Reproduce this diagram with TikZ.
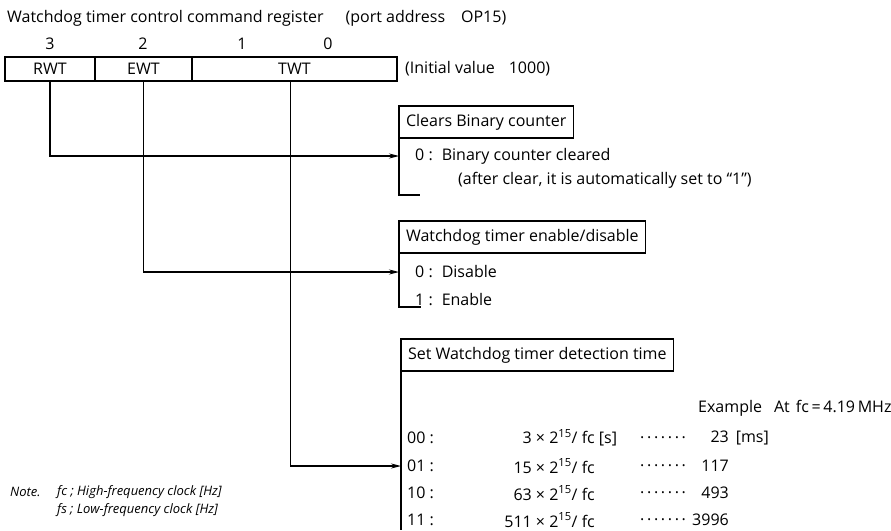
\documentclass[tikz,border=0pt]{standalone}
\usepackage{fontspec}
\setmainfont{Open Sans}
\usetikzlibrary{arrows.meta,positioning}
\tikzset{
 reg/.style={rectangle,draw=black,line width=1.1pt,outer sep=0pt,inner sep=0pt,minimum height=24pt},
 head/.style={rectangle,draw=black,line width=1.1pt,outer sep=0pt,inner xsep=7pt,inner ysep=0pt,minimum height=32pt,anchor=north west},
 txt/.style={inner sep=0pt,anchor=west},
 val/.style={inner sep=0pt,anchor=east},
 note/.style={inner sep=0pt,anchor=west,font=\fontsize{13}{15}\selectfont\itshape},
 arrow/.style={-{Stealth[length=10pt,width=5pt]},line width=1.1pt},
 brk/.style={line width=1.1pt}}

\begin{document}
\begin{tikzpicture}[x=1pt,y=-1pt,font=\fontsize{16}{19}\selectfont]
\useasboundingbox (0,0) rectangle (891,530);
% register
\node[txt] (title) at (7,18) {Watchdog timer control command register\hspace{22pt}(port address\hspace{16pt}OP15)};
\node[reg,minimum width=90pt] (rwt) at (50,69) {RWT};
\node[reg,minimum width=97pt,right=0pt of rwt] (ewt) {EWT};
\node[reg,minimum width=205pt,right=0pt of ewt] (twt) {TWT};
\node (b3) at (50,44) {3}; \node (b2) at (143,44) {2}; \node (b1) at (242,44) {1}; \node (b0) at (328,44) {0};
\node[txt,right=8pt of twt] (init) {(Initial value\hspace{14pt}1000)};
% clear
\node[head] (clrhead) at (399,106) {Clears Binary counter};
\node[txt] (clr0) at (415,156) {0 :\hspace{9pt}Binary counter cleared};
\node[txt] (clr1) at (458,180) {(after clear, it is automatically set to “1”)};
\draw[brk] (clrhead.south west) -- ++(0,57) -- ++(21,0);
% enable
\node[head] (enhead) at (399,221) {Watchdog timer enable/disable};
\node[txt] (en0) at (415,272) {0 :\hspace{9pt}Disable};
\node[txt] (en1) at (415,300) {1 :\hspace{9pt}Enable};
\draw[brk] (enhead.south west) -- ++(0,54) -- ++(22,0);
% detection time
\node[head] (sethead) at (401,339) {Set Watchdog timer detection time};
\coordinate (setend) at (401,530);
\draw[brk] (sethead.south west) -- (setend);
\node[txt] (example) at (698,408) {Example\hspace{12pt}At\hspace{6pt}fc\,=\,4.19\,MHz};
\node[txt] (r00) at (407,438) {00 :}; \node[val] (f00) at (595,438) {3 × 2\textsuperscript{15}/ fc\rlap{ [s]}};
\node[txt] (r01) at (407,466) {01 :}; \node[val] (f01) at (595,466) {15 × 2\textsuperscript{15}/ fc};
\node[txt] (r10) at (407,493) {10 :}; \node[val] (f10) at (595,493) {63 × 2\textsuperscript{15}/ fc};
\node[txt] (r11) at (407,520) {11 :}; \node[val] (f11) at (595,520) {511 × 2\textsuperscript{15}/ fc};
\node[txt] (d00) at (640,438) {\raisebox{1pt}{.\,.\,.\,.\,.\,.\,.}}; \node[val] (v00) at (729,438) {23\rlap{\hspace{7pt}[ms]}};
\node[txt] (d01) at (640,466) {\raisebox{1pt}{.\,.\,.\,.\,.\,.\,.}}; \node[val] (v01) at (729,466) {117};
\node[txt] (d10) at (640,493) {\raisebox{1pt}{.\,.\,.\,.\,.\,.\,.}}; \node[val] (v10) at (729,493) {493};
\node[txt] (d11) at (640,520) {\raisebox{1pt}{.\,.\,.\,.\,.\,.\,.}}; \node[val] (v11) at (729,520) {3996};
% note
\node[note] (notehd) at (10,492) {Note.};
\node[note] (notefc) at (57,492) {fc ; High-frequency clock [Hz]};
\node[note] (notefs) at (57,510) {fs ; Low-frequency clock [Hz]};
% connectors
\draw[arrow] (rwt.south) |- (clr0 -| clrhead.west);
\draw[arrow] (ewt.south) |- (en0 -| enhead.west);
\draw[arrow] ([xshift=-4pt]twt.south) |- (r01 -| sethead.west);
\end{tikzpicture}
\end{document}
